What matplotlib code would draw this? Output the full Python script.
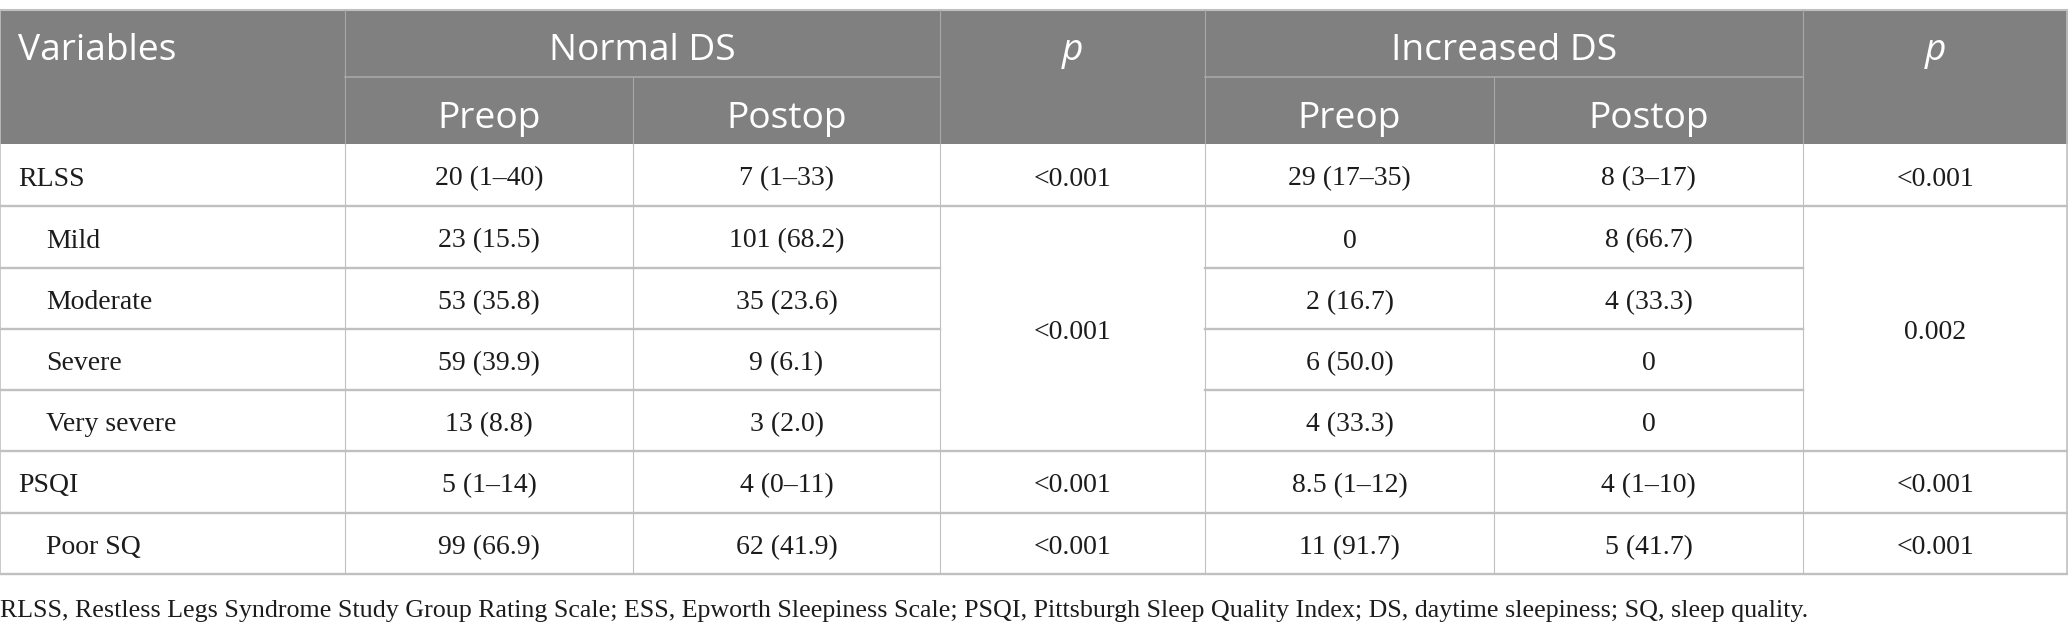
import matplotlib
matplotlib.use("Agg")
import matplotlib.pyplot as plt
from matplotlib.patches import Rectangle

# ---- table content ----
groups = ["Normal DS", "Increased DS"]
subcols = ["Preop", "Postop"]
row_labels = ["RLSS", "Mild", "Moderate", "Severe", "Very severe", "PSQI", "Poor SQ"]
indented = [False, True, True, True, True, False, True]
normal_pre = ["20 (1–40)", "23 (15.5)", "53 (35.8)", "59 (39.9)", "13 (8.8)", "5 (1–14)", "99 (66.9)"]
normal_post = ["7 (1–33)", "101 (68.2)", "35 (23.6)", "9 (6.1)", "3 (2.0)", "4 (0–11)", "62 (41.9)"]
incr_pre = ["29 (17–35)", "0", "2 (16.7)", "6 (50.0)", "4 (33.3)", "8.5 (1–12)", "11 (91.7)"]
incr_post = ["8 (3–17)", "8 (66.7)", "4 (33.3)", "0", "0", "4 (1–10)", "5 (41.7)"]
# p values: (first row, last row, text) -> merged cells
normal_p = [(0, 0, "<0.001"), (1, 4, "<0.001"), (5, 5, "<0.001"), (6, 6, "<0.001")]
incr_p = [(0, 0, "<0.001"), (1, 4, "0.002"), (5, 5, "<0.001"), (6, 6, "<0.001")]
footnote = ("RLSS, Restless Legs Syndrome Study Group Rating Scale; ESS, Epworth Sleepiness Scale; "
            "PSQI, Pittsburgh Sleep Quality Index; DS, daytime sleepiness; SQ, sleep quality.")

# ---- layout (pixels) ----
W, H = 2068, 631
col_x = [0, 345, 633, 940, 1205, 1494, 1803, 2068]
top, mid, hbot = 10, 76.5, 144
row_y = [144, 206, 268, 329, 390, 451, 513, 574]

head_bg = "#808080"
grid = "#c0c0c0"
head_line = "#a8a8a8"
txt = "#1c1c1c"
head_font = ["Open Sans", "DejaVu Sans"]
body_font = ["Liberation Serif", "DejaVu Serif"]
hs = 26.7
bs = 20

fig = plt.figure(figsize=(W / 100, H / 100), dpi=100)
ax = fig.add_axes([0, 0, 1, 1])
ax.set_xlim(0, W)
ax.set_ylim(H, 0)
ax.axis("off")

# header block
ax.add_patch(Rectangle((0, top), W, hbot - top, facecolor=head_bg, edgecolor="none"))
ax.plot([0, W], [top, top], color=grid, lw=1.5)
ax.plot([col_x[1], col_x[3]], [mid, mid], color=head_line, lw=1.2)
ax.plot([col_x[4], col_x[6]], [mid, mid], color=head_line, lw=1.2)
for i in [1, 3, 4, 6]:
    ax.plot([col_x[i], col_x[i]], [top, hbot], color=head_line, lw=0.8)
for i in [2, 5]:
    ax.plot([col_x[i], col_x[i]], [mid, hbot], color=head_line, lw=0.8)

def cx(i):
    return (col_x[i] + col_x[i + 1]) / 2

yh1 = 60   # baselines of the two header lines
yh2 = 128
hk = dict(color="white", fontsize=hs, family=head_font, va="baseline")
ax.text(18, yh1, "Variables", ha="left", **hk)
ax.text((col_x[1] + col_x[3]) / 2, yh1, groups[0], ha="center", **hk)
ax.text((col_x[4] + col_x[6]) / 2, yh1, groups[1], ha="center", **hk)
for i in [3, 6]:
    ax.text(cx(i), yh1, "p", style="italic", ha="center", **hk)
for k, i in enumerate([1, 2, 4, 5]):
    ax.text(cx(i), yh2, subcols[k % 2], ha="center", **hk)

# body grid
ax.plot([0, 0], [top, row_y[-1]], color=grid, lw=1.2)
ax.plot([W - 1, W - 1], [top, row_y[-1]], color=grid, lw=1.2)
for i in range(1, 7):
    ax.plot([col_x[i], col_x[i]], [hbot, row_y[-1]], color=grid, lw=0.8)
merged = {r for a, b, _ in normal_p if b > a for r in range(a, b)}
for r in range(1, len(row_y)):
    y = row_y[r]
    if (r - 1) in merged:
        # p columns merged: no line across them
        for a, b in [(0, 3), (4, 6)]:
            ax.plot([col_x[a], col_x[b]], [y, y], color=grid, lw=1.7)
    else:
        ax.plot([0, W], [y, y], color=grid, lw=1.7)

# body text
def ry(a, b):
    return (row_y[a] + row_y[b + 1]) / 2 + 4

bk = dict(color=txt, fontsize=bs, family=body_font, va="center")
for r, lab in enumerate(row_labels):
    ax.text(46 if indented[r] else 18, ry(r, r), lab, ha="left", **bk)
    for i, col in zip([1, 2, 4, 5], [normal_pre, normal_post, incr_pre, incr_post]):
        ax.text(cx(i), ry(r, r), col[r], ha="center", **bk)
for i, plist in zip([3, 6], [normal_p, incr_p]):
    for a, b, s in plist:
        ax.text(cx(i), ry(a, b), s, ha="center", **bk)

ax.text(0, 611, footnote, color=txt, fontsize=18.75, family=body_font, va="center", ha="left")

fig.savefig("out.png", dpi=100, facecolor="white")
